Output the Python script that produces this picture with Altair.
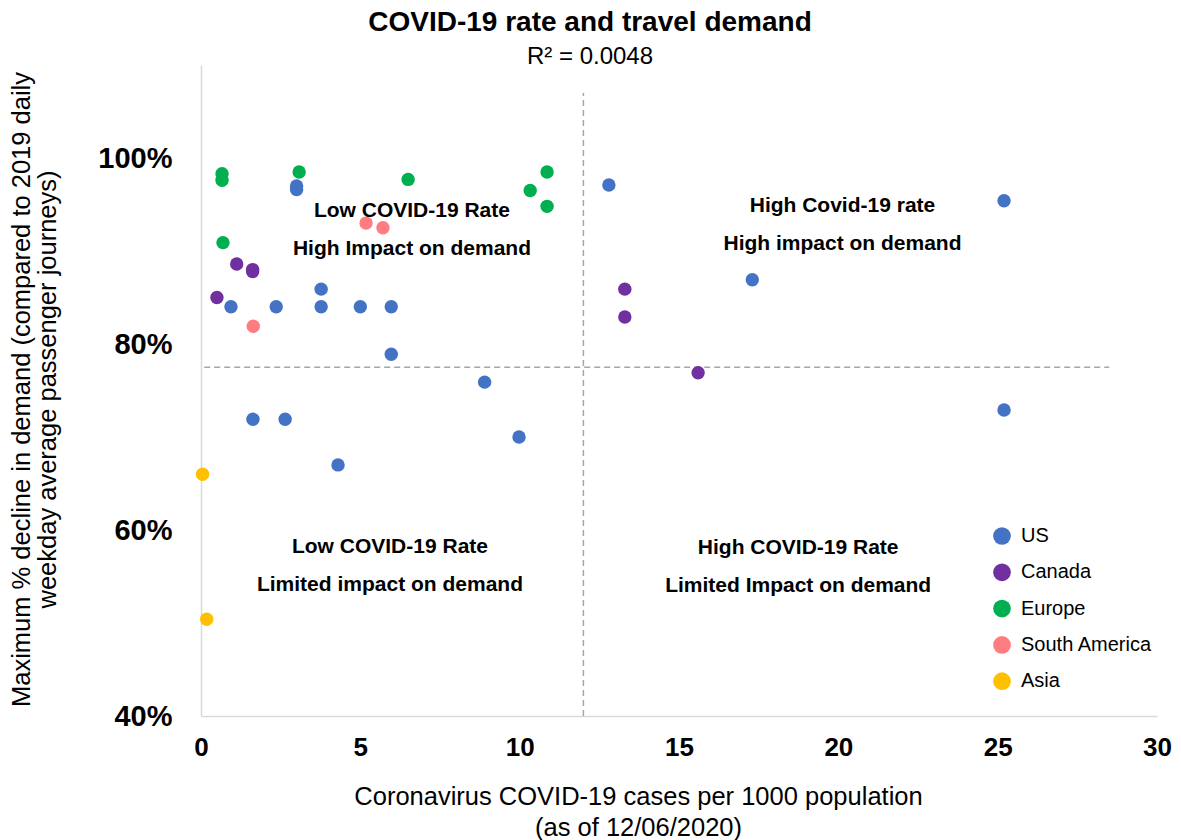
import altair as alt
import pandas as pd

# ---- data ----
regions = ["US", "Canada", "Europe", "South America", "Asia"]
region_colors = ["#4472C4", "#7030A0", "#00B050", "#FF7C80", "#FFC000"]

us_cases = [3.0, 3.0, 12.8, 25.2, 17.3, 3.77, 0.94, 2.36, 3.77, 5.0, 5.97, 5.97, 8.9, 1.63, 2.64, 9.98, 4.3, 25.2]
us_decline = [97.0, 96.6, 97.1, 95.4, 86.9, 85.9, 84.0, 84.0, 84.0, 84.0, 84.0, 78.9, 75.9, 71.9, 71.9, 70.0, 67.0, 72.9]

canada_cases = [1.12, 1.62, 1.62, 0.5, 13.3, 13.3, 15.6]
canada_decline = [88.6, 87.8, 88.0, 85.0, 85.9, 82.9, 76.9]

europe_cases = [0.66, 0.66, 3.08, 6.5, 10.86, 10.33, 10.86, 0.69]
europe_decline = [98.3, 97.6, 98.5, 97.7, 98.5, 96.5, 94.8, 90.9]

samerica_cases = [5.18, 5.71, 1.64]
samerica_decline = [93.0, 92.5, 81.9]

asia_cases = [0.05, 0.18]
asia_decline = [66.0, 50.4]

# quadrant thresholds
split_cases = [12.0]
split_decline = [77.5]

x_ticks = [0, 5, 10, 15, 20, 25, 30]
y_ticks = [0.4, 0.6, 0.8, 1.0]

annot_text = [
    "Low COVID-19 Rate\nHigh Impact on demand",
    "High Covid-19 rate\nHigh impact on demand",
    "Low COVID-19 Rate\nLimited impact on demand",
    "High COVID-19 Rate\nLimited Impact on demand",
]
annot_cases = [6.62, 20.13, 5.93, 18.74]
annot_decline = [94.3, 94.8, 58.2, 58.1]

# ---- tables ----
rows = []
for reg, xs, ys in [
    ("US", us_cases, us_decline),
    ("Canada", canada_cases, canada_decline),
    ("Europe", europe_cases, europe_decline),
    ("South America", samerica_cases, samerica_decline),
    ("Asia", asia_cases, asia_decline),
]:
    for xv, yv in zip(xs, ys):
        rows.append({"region": reg, "cases": xv, "decline": yv / 100})
pts = pd.DataFrame(rows)

vline = pd.DataFrame({"cases": split_cases, "decline": [0.40], "decline2": [1.07]})
hline = pd.DataFrame({"cases": [0.1], "cases2": [28.5], "decline": [v / 100 for v in split_decline]})
ann = pd.DataFrame({"label": annot_text, "cases": annot_cases,
                    "decline": [v / 100 for v in annot_decline]})

FONT = "Liberation Sans"
x_scale = alt.Scale(domain=[0, 30], nice=False, zero=False)
y_scale = alt.Scale(domain=[0.4, 1.1], nice=False, zero=False)

x_axis = alt.Axis(
    values=x_ticks, grid=False, ticks=False, domainColor="#d9d9d9", domainWidth=1.5,
    labelFont=FONT, labelFontSize=26, labelFontWeight="bold", labelColor="black",
    labelPadding=18, labelFlush=False, labelOverlap=False,
    title=["Coronavirus COVID-19 cases per 1000 population", "(as of 12/06/2020)"],
    titleFont=FONT, titleFontSize=25.5, titleFontWeight="normal", titleColor="black",
    titleX=437, titleY=68, titleAlign="center", titleBaseline="top", titleLineHeight=31,
)
y_axis = alt.Axis(
    values=y_ticks, format=".0%", grid=False, ticks=False, domainColor="#d9d9d9", domainWidth=1.5,
    labelFont=FONT, labelFontSize=29, labelFontWeight="bold", labelColor="black",
    labelPadding=29, labelFlush=False, labelOverlap=False,
    title=["Maximum % decline in demand (compared to 2019 daily",
           "weekday average passenger journeys)"],
    titleFont=FONT, titleFontSize=25.5, titleFontWeight="normal", titleColor="black",
    titleX=-180, titleY=324, titleAngle=270, titleAlign="center", titleBaseline="middle",
    titleLineHeight=26,
)

points = alt.Chart(pts).mark_circle(size=180, opacity=1).encode(
    x=alt.X("cases:Q", scale=x_scale, axis=x_axis),
    y=alt.Y("decline:Q", scale=y_scale, axis=y_axis),
    color=alt.Color(
        "region:N",
        scale=alt.Scale(domain=regions, range=region_colors),
        legend=alt.Legend(
            title=None, orient="none", legendX=791, legendY=461, direction="vertical",
            symbolType="circle", symbolSize=314, symbolStrokeWidth=0, symbolOpacity=1,
            labelFont=FONT, labelFontSize=20, labelColor="black", labelOffset=9,
            rowPadding=16.3, padding=0,
        ),
    ),
)

rule_v = alt.Chart(vline).mark_rule(color="#a6a6a6", strokeDash=[6, 4], strokeWidth=1.5).encode(
    x=alt.X("cases:Q", scale=x_scale),
    y=alt.Y("decline:Q", scale=y_scale),
    y2="decline2:Q",
)
rule_h = alt.Chart(hline).mark_rule(color="#a6a6a6", strokeDash=[6, 4], strokeWidth=1.5).encode(
    x=alt.X("cases:Q", scale=x_scale),
    x2="cases2:Q",
    y=alt.Y("decline:Q", scale=y_scale),
)

labels = alt.Chart(ann).mark_text(
    font=FONT, fontSize=21, fontWeight="bold", color="black",
    lineBreak="\n", lineHeight=38, baseline="middle", align="center",
).encode(
    x=alt.X("cases:Q", scale=x_scale),
    y=alt.Y("decline:Q", scale=y_scale),
    text="label:N",
)

chart = alt.layer(rule_v, rule_h, points, labels).properties(
    width=956,
    height=651,
    autosize=alt.AutoSizeParams(type="none"),
    padding={"left": 201, "top": 65, "right": 24, "bottom": 124},
    background="white",
    title=alt.TitleParams(
        text="COVID-19 rate and travel demand",
        subtitle="R² = 0.0048",
        font=FONT, fontSize=28, fontWeight="bold", color="black",
        subtitleFont=FONT, subtitleFontSize=24, subtitleColor="black",
        anchor="middle", dx=-89, offset=-4, subtitlePadding=8,
    ),
).configure_view(stroke=None)

chart.save("out.html", embed_options={"renderer": "svg", "actions": False})
